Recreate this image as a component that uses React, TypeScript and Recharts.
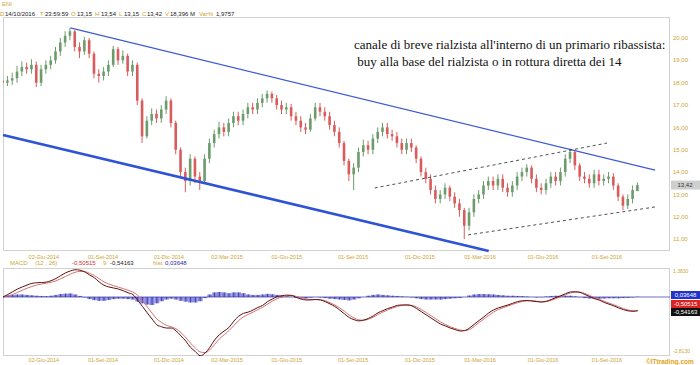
import React from 'react';
import { ComposedChart, Bar, Line, XAxis, YAxis, ReferenceLine } from 'recharts';

// weekly candles, Apr 2014 -> 14/10/2016
const openValues = [
  18.1, 18.0, 18.1, 18.2, 18.5, 18.7, 18.6, 18.8, 18.0, 18.6,
  18.8, 19.0, 19.4, 19.8, 20.1, 20.3, 19.6, 19.4, 19.9, 19.3,
  18.4, 18.3, 18.5, 18.8, 19.5, 19.0, 19.2, 18.5, 18.8, 17.2,
  15.6, 16.3, 16.6, 16.4, 16.8, 17.2, 16.2, 15.0, 14.0, 13.6,
  14.6, 13.8, 13.6, 14.6, 15.3, 15.7, 16.0, 15.8, 16.2, 16.5,
  16.3, 16.6, 16.9, 16.8, 17.1, 17.3, 17.5, 17.3, 17.0, 16.8,
  16.9, 16.5, 16.3, 16.0, 15.9, 16.4, 16.9, 16.7, 16.5, 16.1,
  15.8, 15.3, 14.5, 13.9, 14.2, 14.9, 15.2, 15.0, 15.5, 15.8,
  16.0, 15.7, 15.6, 15.3, 15.0, 15.3, 15.1, 14.6, 14.0, 13.7,
  13.2, 12.8, 13.0, 13.3, 12.9, 12.6, 12.3, 11.6, 12.2, 12.8,
  13.0, 13.4, 13.6, 13.4, 13.7, 13.3, 13.1, 13.4, 13.8, 14.0,
  14.2, 13.7, 13.3, 13.2, 13.5, 13.8, 13.6, 14.0, 14.6, 14.9,
  14.3, 13.8, 13.7, 13.5, 13.9, 13.6, 13.7, 13.8, 13.4, 12.9,
  12.5, 12.8, 13.15,
];
const highValues = [
  18.35, 18.3, 18.45, 18.75, 18.95, 18.9, 19.05, 18.95, 18.8, 19.0,
  19.2, 19.6, 20.0, 20.3, 20.45, 20.35, 19.8, 20.05, 20.0, 19.4,
  18.6, 18.7, 19.0, 19.65, 19.6, 19.45, 19.3, 19.0, 18.9, 17.3,
  16.5, 16.85, 16.8, 17.0, 17.4, 17.3, 16.3, 15.1, 14.2, 14.8,
  14.7, 14.0, 14.8, 15.5, 15.9, 16.25, 16.2, 16.4, 16.7, 16.7,
  16.8, 17.1, 17.1, 17.3, 17.5, 17.65, 17.6, 17.45, 17.2, 17.1,
  17.05, 16.7, 16.5, 16.2, 16.6, 17.1, 17.1, 16.9, 16.7, 16.3,
  16.0, 15.4, 14.6, 14.4, 15.1, 15.45, 15.4, 15.7, 16.0, 16.2,
  16.2, 15.9, 15.8, 15.5, 15.5, 15.5, 15.2, 14.7, 14.2, 13.9,
  13.4, 13.2, 13.5, 13.4, 13.1, 12.8, 12.4, 12.4, 13.0, 13.2,
  13.6, 13.8, 13.8, 13.9, 13.9, 13.5, 13.6, 14.0, 14.2, 14.35,
  14.3, 13.9, 13.5, 13.7, 14.0, 14.0, 14.2, 14.8, 15.05, 15.0,
  14.4, 14.0, 13.9, 14.1, 14.1, 13.9, 14.0, 13.95, 13.5, 13.0,
  13.0, 13.4, 13.54,
];
const lowValues = [
  17.8, 17.85, 17.9, 18.0, 18.3, 18.4, 18.4, 17.8, 17.85, 18.4,
  18.6, 18.85, 19.2, 19.6, 19.9, 19.4, 19.1, 19.25, 19.1, 18.2,
  18.0, 18.1, 18.3, 18.7, 18.8, 18.85, 18.3, 18.3, 17.0, 15.3,
  15.5, 16.1, 16.2, 16.2, 16.6, 16.0, 14.8, 13.8, 13.1, 13.4,
  13.5, 13.2, 13.5, 14.4, 15.1, 15.5, 15.6, 15.6, 16.0, 16.1,
  16.1, 16.4, 16.6, 16.6, 16.9, 17.1, 17.1, 16.8, 16.6, 16.6,
  16.3, 16.1, 15.8, 15.7, 15.8, 16.3, 16.5, 16.3, 15.9, 15.6,
  15.1, 14.3, 13.6, 13.2, 14.0, 14.7, 14.8, 14.8, 15.3, 15.6,
  15.5, 15.4, 15.1, 14.8, 14.8, 14.9, 14.4, 13.8, 13.5, 13.0,
  12.6, 12.6, 12.8, 12.7, 12.4, 12.0, 11.0, 11.4, 12.0, 12.6,
  12.8, 13.2, 13.2, 13.2, 13.1, 12.9, 12.9, 13.2, 13.6, 13.8,
  13.5, 13.1, 13.0, 13.0, 13.3, 13.4, 13.4, 13.8, 14.4, 14.1,
  13.6, 13.5, 13.3, 13.3, 13.4, 13.4, 13.5, 13.2, 12.7, 12.3,
  12.35, 12.6, 13.15,
];
const closeValues = [
  18.0, 18.1, 18.2, 18.5, 18.7, 18.6, 18.8, 18.0, 18.6, 18.8,
  19.0, 19.4, 19.8, 20.1, 20.3, 19.6, 19.4, 19.9, 19.3, 18.4,
  18.3, 18.5, 18.8, 19.5, 19.0, 19.2, 18.5, 18.8, 17.2, 15.6,
  16.3, 16.6, 16.4, 16.8, 17.2, 16.2, 15.0, 14.0, 13.6, 14.6,
  13.8, 13.6, 14.6, 15.3, 15.7, 16.0, 15.8, 16.2, 16.5, 16.3,
  16.6, 16.9, 16.8, 17.1, 17.3, 17.5, 17.3, 17.0, 16.8, 16.9,
  16.5, 16.3, 16.0, 15.9, 16.4, 16.9, 16.7, 16.5, 16.1, 15.8,
  15.3, 14.5, 13.9, 14.2, 14.9, 15.2, 15.0, 15.5, 15.8, 16.0,
  15.7, 15.6, 15.3, 15.0, 15.3, 15.1, 14.6, 14.0, 13.7, 13.2,
  12.8, 13.0, 13.3, 12.9, 12.6, 12.3, 11.6, 12.2, 12.8, 13.0,
  13.4, 13.6, 13.4, 13.7, 13.3, 13.1, 13.4, 13.8, 14.0, 14.2,
  13.7, 13.3, 13.2, 13.5, 13.8, 13.6, 14.0, 14.6, 14.9, 14.3,
  13.8, 13.7, 13.5, 13.9, 13.6, 13.7, 13.8, 13.4, 12.9, 12.5,
  12.8, 13.2, 13.42,
];

const macdValues = [
  0.0, 0.12, 0.25, 0.38, 0.48, 0.57, 0.65, 0.68, 0.69, 0.71,
  0.78, 0.88, 1.02, 1.15, 1.24, 1.3, 1.28, 1.2, 1.05, 0.92,
  0.72, 0.56, 0.48, 0.43, 0.38, 0.3, 0.2, 0.12, -0.15, -0.45,
  -0.76, -1.05, -1.33, -1.42, -1.48, -1.48, -1.62, -1.85, -2.1, -2.4,
  -2.6, -2.8, -2.68, -2.4, -2.05, -1.8, -1.62, -1.45, -1.15, -0.92,
  -0.78, -0.72, -0.62, -0.5, -0.4, -0.22, -0.1, 0.02, 0.06, 0.09,
  0.08, -0.02, -0.1, -0.14, -0.14, -0.12, -0.14, -0.22, -0.33, -0.45,
  -0.62, -0.8, -0.98, -1.08, -1.14, -1.1, -1.02, -0.9, -0.75, -0.65,
  -0.55, -0.48, -0.4, -0.38, -0.38, -0.42, -0.55, -0.7, -0.85, -1.0,
  -1.15, -1.29, -1.38, -1.48, -1.55, -1.62, -1.6, -1.48, -1.3, -1.12,
  -0.95, -0.76, -0.62, -0.52, -0.45, -0.38, -0.3, -0.22, -0.18, -0.17,
  -0.19, -0.22, -0.24, -0.2, -0.12, -0.02, 0.06, 0.16, 0.24, 0.25,
  0.22, 0.12, 0.02, -0.08, -0.15, -0.26, -0.34, -0.42, -0.52, -0.6,
  -0.66, -0.68, -0.65,
];
const signalValues = [
  0.0, 0.05, 0.12, 0.22, 0.32, 0.42, 0.5, 0.57, 0.62, 0.66,
  0.7, 0.77, 0.87, 0.98, 1.09, 1.18, 1.22, 1.21, 1.13, 1.02,
  0.87, 0.72, 0.62, 0.54, 0.47, 0.4, 0.32, 0.24, 0.08, -0.18,
  -0.47, -0.77, -1.05, -1.22, -1.35, -1.42, -1.52, -1.7, -1.93, -2.2,
  -2.43, -2.62, -2.65, -2.52, -2.26, -2.0, -1.8, -1.6, -1.36, -1.12,
  -0.95, -0.83, -0.72, -0.6, -0.49, -0.34, -0.2, -0.08, 0.0, 0.05,
  0.07, 0.03, -0.04, -0.09, -0.12, -0.12, -0.13, -0.18, -0.27, -0.38,
  -0.52, -0.68, -0.86, -1.0, -1.09, -1.11, -1.06, -0.96, -0.83, -0.72,
  -0.62, -0.53, -0.45, -0.4, -0.38, -0.4, -0.48, -0.6, -0.74, -0.89,
  -1.04, -1.19, -1.31, -1.42, -1.5, -1.57, -1.6, -1.55, -1.4, -1.22,
  -1.05, -0.88, -0.72, -0.6, -0.51, -0.43, -0.35, -0.27, -0.21, -0.18,
  -0.18, -0.2, -0.23, -0.22, -0.16, -0.07, 0.02, 0.11, 0.19, 0.23,
  0.23, 0.17, 0.07, -0.03, -0.11, -0.2, -0.29, -0.37, -0.46, -0.55,
  -0.62, -0.66, -0.66,
];
const histValues = [
  0.05, 0.07, 0.1, 0.12, 0.12, 0.1, 0.08, 0.06, 0.05, 0.04,
  0.06, 0.1, 0.14, 0.16, 0.17, 0.12, 0.05, -0.02, -0.1, -0.15,
  -0.18, -0.18, -0.14, -0.1, -0.08, -0.08, -0.1, -0.12, -0.22, -0.3,
  -0.36, -0.38, -0.3, -0.2, -0.12, -0.08, -0.12, -0.18, -0.22, -0.26,
  -0.26, -0.2, -0.05, 0.12, 0.22, 0.24, 0.22, 0.18, 0.22, 0.22,
  0.18, 0.12, 0.1, 0.1, 0.12, 0.15, 0.13, 0.1, 0.06, 0.04,
  0.01, -0.04, -0.06, -0.06, -0.03, 0.0, -0.02, -0.05, -0.08, -0.1,
  -0.12, -0.14, -0.16, -0.12, -0.06, 0.0, 0.06, 0.1, 0.12, 0.1,
  0.08, 0.06, 0.05, 0.03, 0.01, -0.02, -0.06, -0.1, -0.12, -0.12,
  -0.12, -0.12, -0.1, -0.08, -0.06, -0.05, 0.0, 0.07, 0.12, 0.14,
  0.14, 0.13, 0.12, 0.1, 0.08, 0.06, 0.06, 0.05, 0.04, 0.02,
  0.0, -0.02, -0.01, 0.02, 0.05, 0.06, 0.06, 0.06, 0.06, 0.03,
  -0.01, -0.05, -0.07, -0.08, -0.08, -0.07, -0.06, -0.06, -0.06, -0.05,
  -0.04, -0.02, 0.01,
];

const dateTicks = [8.5, 20.8, 34.5, 46.6, 59.0, 72.8, 86.7, 99.2, 112.3, 125.6];
const dateLabels = [
  '02-Giu-2014', '01-Set-2014', '01-Dic-2014', '02-Mar-2015', '01-Giu-2015',
  '01-Set-2015', '01-Dic-2015', '01-Mar-2016', '01-Giu-2016', '01-Set-2016',
];
const priceTicks = [11, 12, 13, 14, 15, 16, 17, 18, 19, 20];
const macdTicks = [1.383, -2.813];

// trend lines (week index, price)
const primaryUpper = [{ x: 14, y: 20.45 }, { x: 135.6, y: 14.09 }];
const primaryLower = [{ x: 0, y: 15.66 }, { x: 101, y: 10.47 }];
const shortUpper = [{ x: 77.3, y: 13.29 }, { x: 125.6, y: 15.3 }];
const shortLower = [{ x: 96.7, y: 11.19 }, { x: 135.6, y: 12.44 }];

const candles = closeValues.map((c, i) => ({
  i,
  open: openValues[i],
  high: highValues[i],
  low: lowValues[i],
  close: c,
}));
const macdRows = macdValues.map((m, i) => ({ i, macd: m, signal: signalValues[i], hist: histValues[i] }));

const lastClose = closeValues[closeValues.length - 1];

const YEL = '#cda434';
const UP = '#6c9c6c';
const DOWN = '#d85c5c';
const SMALL = '"Liberation Sans", Arial, sans-serif';
const X_DOMAIN: [number, number] = [0, 138.7];

const Candle = (props: any) => {
  const { x, y, width, height, payload } = props;
  if (payload == null) return null;
  const top = Math.min(y, y + height);
  const bottom = Math.max(y, y + height);
  const span = payload.high - payload.low || 1;
  const py = (v: number) => top + ((payload.high - v) / span) * (bottom - top);
  const color = payload.close >= payload.open ? UP : DOWN;
  const cx = x + width / 2;
  const bTop = py(Math.max(payload.open, payload.close));
  const bBot = py(Math.min(payload.open, payload.close));
  return (
    <g>
      <line x1={cx} x2={cx} y1={top} y2={bottom} stroke={color} strokeWidth={1} />
      <rect x={cx - 1.3} y={bTop} width={2.6} height={Math.max(1, bBot - bTop)} fill={color} />
    </g>
  );
};

const HistBar = (props: any) => {
  const { x, y, width, height } = props;
  const top = Math.min(y, y + height);
  const h = Math.abs(height);
  const cx = x + width / 2;
  return (
    <g>
      <rect x={x} y={top} width={width} height={h} fill="#8b8be4" />
      <line x1={cx} x2={cx} y1={top} y2={top + h} stroke="#2c2c95" strokeWidth={0.8} />
    </g>
  );
};

const MacdTick = (props: any) => {
  const { x, y, payload } = props;
  const v = payload.value as number;
  return (
    <text x={x} y={y + (v < 0 ? -3 : 5)} fontSize={5} fill={YEL} fontFamily={SMALL} textAnchor="start">
      {v.toFixed(4).replace('.', ',')}
    </text>
  );
};

const PriceTag = (props: any) => {
  const vb = props.viewBox || {};
  const x0 = vb.x + vb.width + 1;
  return (
    <g>
      <rect x={x0} y={vb.y - 4.5} width={29} height={9} fill="#cfcfcf" />
      <text x={x0 + 14} y={vb.y + 2.2} fontSize={6} fontFamily={SMALL} textAnchor="middle" fill="#333">
        {lastClose.toFixed(2).replace('.', ',')}
      </text>
    </g>
  );
};

const span = (x: number, text: string, color: string, top: number, size = 6) => (
  <span style={{ position: 'absolute', left: x, top, fontSize: size, color, fontFamily: SMALL, whiteSpace: 'nowrap', lineHeight: '8px' }}>
    {text}
  </span>
);

const tagBox = (top: number, bg: string, text: string) => (
  <div
    style={{
      position: 'absolute', left: 671, top, width: 29, height: 8, background: bg, color: '#fff',
      fontSize: 6, fontFamily: SMALL, lineHeight: '8px', textAlign: 'center',
    }}
  >
    {text}
  </div>
);

export default function App() {
  return (
    <div style={{ position: 'absolute', left: 0, top: 0, width: 700, height: 365, background: '#fff', overflow: 'hidden' }}>
      {/* header */}
      {span(2, 'ENI', YEL, 0)}
      {span(0, 'D', YEL, 10)}
      {span(5, '14/10/2016', '#222', 10)}
      {span(40, 'T', YEL, 10)}
      {span(45, '23:59:59', '#222', 10)}
      {span(71, 'O', YEL, 10)}
      {span(77, '13,15', '#222', 10)}
      {span(95, 'H', YEL, 10)}
      {span(101, '13,54', '#222', 10)}
      {span(119, 'L', YEL, 10)}
      {span(124, '13,15', '#222', 10)}
      {span(142, 'C', YEL, 10)}
      {span(147, '13,42', '#222', 10)}
      {span(165, 'V', YEL, 10)}
      {span(170, '18,396 M', '#222', 10)}
      {span(199, 'Var%', YEL, 10)}
      {span(216, '1,9757', '#222', 10)}

      {/* panel frames */}
      <div style={{ position: 'absolute', left: 3, top: 17, width: 667, height: 234, border: '1px solid #d2d2d2', boxSizing: 'border-box' }} />
      <div style={{ position: 'absolute', left: 3, top: 268, width: 667, height: 88, border: '1px solid #d2d2d2', boxSizing: 'border-box' }} />

      <div style={{ position: 'absolute', left: 0, top: 0 }}>
        <ComposedChart width={700} height={265} data={candles} margin={{ top: 17, right: 0, bottom: 0, left: 3 }}>
          <XAxis
            dataKey="i"
            type="number"
            domain={X_DOMAIN}
            allowDataOverflow
            ticks={dateTicks}
            interval={0}
            tickFormatter={(v: number) => dateLabels[dateTicks.indexOf(v)] ?? ''}
            axisLine={false}
            tickLine={false}
            tickSize={0}
            tickMargin={4}
            height={14}
            tick={{ fontSize: 5.5, fill: YEL, fontFamily: SMALL }}
          />
          <YAxis
            orientation="right"
            type="number"
            domain={[10.47, 20.94]}
            allowDataOverflow
            ticks={priceTicks}
            interval={0}
            tickFormatter={(v: number) => v.toFixed(2).replace('.', ',')}
            axisLine={false}
            tickLine={false}
            tickSize={0}
            tickMargin={3}
            width={30}
            tick={{ fontSize: 6, fill: YEL, fontFamily: SMALL, textAnchor: 'start' }}
          />
          <Bar dataKey={(d: any) => [d.low, d.high]} barSize={4} shape={Candle} isAnimationActive={false} />
          <ReferenceLine segment={primaryUpper} stroke="#3d5bd8" strokeWidth={1.3} ifOverflow="visible" />
          <ReferenceLine segment={primaryLower} stroke="#2e53d6" strokeWidth={2.6} ifOverflow="visible" />
          <ReferenceLine segment={shortUpper} stroke="#222" strokeWidth={0.8} strokeDasharray="3 3" ifOverflow="visible" />
          <ReferenceLine segment={shortLower} stroke="#222" strokeWidth={0.8} strokeDasharray="3 3" ifOverflow="visible" />
          <ReferenceLine y={lastClose} stroke="none" ifOverflow="visible" label={<PriceTag />} />
        </ComposedChart>
      </div>

      <div
        style={{
          position: 'absolute', left: 354, top: 36, fontFamily: '"Liberation Serif", "Times New Roman", serif',
          fontSize: 13, lineHeight: '17px', color: '#111', whiteSpace: 'pre',
        }}
      >
        {"canale di breve rialzista all'interno di un primario ribassista:\n buy alla base del rialzista o in rottura diretta dei 14"}
      </div>

      {/* MACD header */}
      {span(10, 'MACD', YEL, 259)}
      {span(35, '(12 , 26)', YEL, 259)}
      {span(72, '-0,50515', '#d03030', 259)}
      {span(103, '9', YEL, 259)}
      {span(110, '-0,54163', '#222', 259)}
      {span(153, 'hist', YEL, 259)}
      {span(165, '0,03648', '#2a2ab0', 259)}

      <div style={{ position: 'absolute', left: 0, top: 262 }}>
        <ComposedChart width={700} height={103} data={macdRows} margin={{ top: 6, right: 0, bottom: 0, left: 3 }}>
          <XAxis
            dataKey="i"
            type="number"
            domain={X_DOMAIN}
            allowDataOverflow
            ticks={dateTicks}
            interval={0}
            tickFormatter={(v: number) => dateLabels[dateTicks.indexOf(v)] ?? ''}
            axisLine={false}
            tickLine={false}
            tickSize={0}
            tickMargin={2}
            height={9}
            tick={{ fontSize: 5.5, fill: YEL, fontFamily: SMALL }}
          />
          <YAxis
            orientation="right"
            type="number"
            domain={[-2.813, 1.383]}
            allowDataOverflow
            ticks={macdTicks}
            interval={0}
            axisLine={false}
            tickLine={false}
            tickSize={0}
            tickMargin={3}
            width={30}
            tick={<MacdTick />}
          />
          <Bar dataKey="hist" barSize={4.8} shape={HistBar} isAnimationActive={false} />
          <ReferenceLine y={0} stroke="#3434a0" strokeWidth={0.7} />
          <Line dataKey="signal" type="monotone" stroke="#d77070" strokeWidth={1} dot={false} isAnimationActive={false} />
          <Line dataKey="macd" type="monotone" stroke="#5a1010" strokeWidth={1} dot={false} isAnimationActive={false} />
        </ComposedChart>
      </div>

      {tagBox(291, '#2233cc', '0,03648')}
      {tagBox(300, '#dd2222', '-0,50515')}
      {tagBox(308, '#111111', '-0,54163')}
      <div style={{ position: 'absolute', left: 646, top: 358, fontSize: 6.5, fontWeight: 'bold', color: '#e4a21a', fontFamily: SMALL, whiteSpace: 'nowrap', lineHeight: '7px' }}>
        ©ITtrading.com
      </div>
    </div>
  );
}
